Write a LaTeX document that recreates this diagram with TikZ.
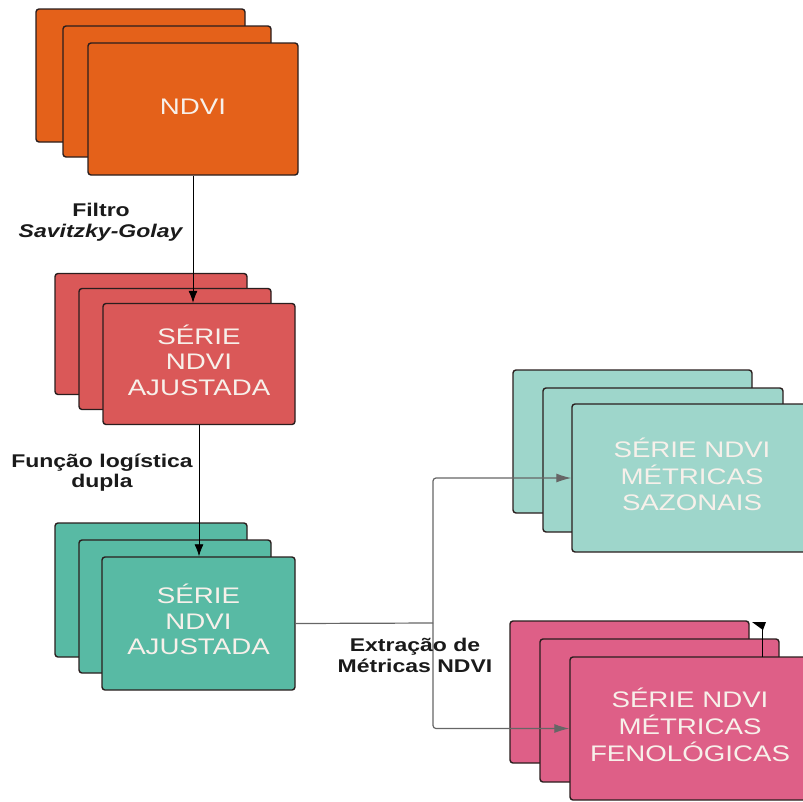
\documentclass[tikz,border=0pt]{standalone}
\usepackage{fontspec}
\setmainfont{Liberation Sans}
\usepackage{graphicx}
\usetikzlibrary{arrows.meta}

\definecolor{cOrange}{HTML}{E4611A}
\definecolor{cRed}{HTML}{DA5858}
\definecolor{cTeal}{HTML}{58BAA4}
\definecolor{cMint}{HTML}{9ED6CB}
\definecolor{cPink}{HTML}{DE5F87}
\definecolor{cEdge}{HTML}{2A1E1E}
\definecolor{cInk}{HTML}{F7F0EA}
\definecolor{cWire}{HTML}{666666}
\definecolor{cLabel}{HTML}{1A1A1A}

% wide sans text used inside the cards and for the step labels
\newcommand\cardtext[1]{\scalebox{1.23}[1]{\fontsize{22.5}{25.5}\selectfont\begin{tabular}{@{}c@{}}#1\end{tabular}}}
\newcommand\steplabel[1]{\scalebox{1.25}[1]{\fontsize{18.4}{20.5}\selectfont\bfseries\begin{tabular}{@{}c@{}}#1\end{tabular}}}

\tikzset{
  card/.style={draw=cEdge, line width=1.4pt, rounded corners=3pt, inner sep=0pt,
               fill=#1, text=cInk},
  drop/.style={draw=black, line width=0.8pt},
  wire/.style={draw=cWire, line width=1.2pt, rounded corners=3pt},
  tip/.style={-{Latex[length=12pt,width=9pt]}},
  longtip/.style={-{Latex[length=15pt,width=9pt]}},
  lab/.style={inner sep=0pt, text=cLabel}
}

\begin{document}
\begin{tikzpicture}[x=1pt,y=-1pt]
\useasboundingbox (0,0) rectangle (803,801);
\clip (0,0) rectangle (803,801);

% NDVI stack
\node[card=cOrange, minimum width=209pt, minimum height=133pt] (ndviA) at (140.5,75.5) {};
\node[card=cOrange, minimum width=208pt, minimum height=131pt] (ndviB) at (167,91.5) {};
\node[card=cOrange, minimum width=210pt, minimum height=132pt] (ndviC) at (193,109) {\cardtext{NDVI}};

% smoothed series stack
\node[card=cRed, minimum width=192pt, minimum height=121pt] (redA) at (151,334) {};
\node[card=cRed, minimum width=192pt, minimum height=121pt] (redB) at (175,349) {};
\node[card=cRed, minimum width=192pt, minimum height=121pt] (redC) at (199,364) {\cardtext{SÉRIE\\NDVI\\AJUSTADA}};

% fitted series stack
\node[card=cTeal, minimum width=192pt, minimum height=134pt] (tealA) at (151,590) {};
\node[card=cTeal, minimum width=192pt, minimum height=133pt] (tealB) at (175,606.5) {};
\node[card=cTeal, minimum width=193pt, minimum height=133pt] (tealC) at (198.5,623.5) {\cardtext{SÉRIE\\NDVI\\AJUSTADA}};

% seasonal metrics stack
\node[card=cMint, minimum width=239pt, minimum height=143pt] (sazA) at (632.5,441.5) {};
\node[card=cMint, minimum width=240pt, minimum height=144pt] (sazB) at (663,460) {};
\node[card=cMint, minimum width=240pt, minimum height=148pt] (sazC) at (692,478) {\cardtext{SÉRIE NDVI\\MÉTRICAS\\SAZONAIS}};

% phenological metrics stack
\node[card=cPink, minimum width=239pt, minimum height=142pt] (fenA) at (629.5,692) {};
\node[card=cPink, minimum width=239pt, minimum height=143pt] (fenB) at (659.5,710.5) {};
\node[card=cPink, minimum width=240pt, minimum height=143pt] (fenC) at (690,728.5) {\cardtext{SÉRIE NDVI\\MÉTRICAS\\FENOLÓGICAS}};

% vertical flow
\draw[drop, tip] (ndviC.south) -- (ndviC.south |- redC.north);
\draw[drop, tip] (redC.south) -- (redC.south |- tealC.north);

% branching to the metric series
\coordinate (split) at (433,623);
\draw[wire] (tealC.east) -- (split);
\draw[wire, longtip] (split) |- (sazC.west);
\draw[wire, longtip] (split) |- (fenC.west);

% short stub above the phenological stack
\coordinate (stubB) at (762,657);
\coordinate (stubT) at (762,624);
\draw[drop] (stubB) -- (stubT);
\fill[black] ([shift={(-10,-2)}]stubT) -- ++(14,0) -- ++(-3,8) -- cycle;

% step labels
\node[lab] (filtro) at (101,223) {\steplabel{Filtro\\\textit{Savitzky-Golay}}};
\node[lab] (funcao) at (102,473.5) {\steplabel{Função logística\\dupla}};
\node[lab] (extr) at (415,658) {\steplabel{Extração de\\Métricas NDVI}};
\end{tikzpicture}
\end{document}
